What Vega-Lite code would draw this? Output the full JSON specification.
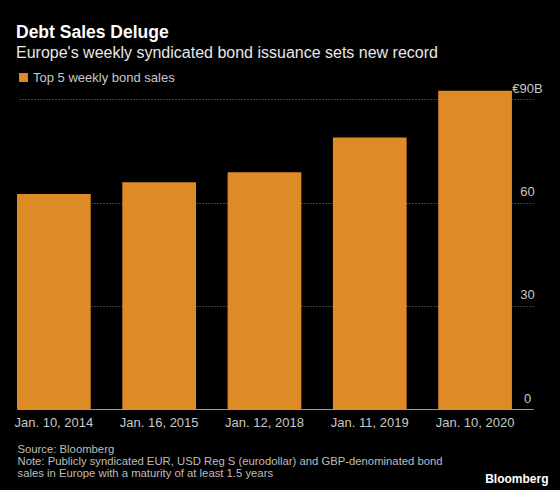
{
  "$schema": "https://vega.github.io/schema/vega-lite/v6.json",
  "width": 516,
  "height": 318,
  "autosize": {"type": "none"},
  "padding": {"left": 17, "top": 91, "right": 27, "bottom": 81},
  "background": "#000000",
  "config": {
    "font": "Liberation Sans",
    "view": {"stroke": null}
  },
  "title": {
    "text": "Debt Sales Deluge",
    "subtitle": "Europe's weekly syndicated bond issuance sets new record",
    "anchor": "start",
    "frame": "group",
    "fontSize": 17.5,
    "fontWeight": "bold",
    "color": "#ffffff",
    "subtitleFontSize": 16,
    "subtitleColor": "#e8e8e8",
    "subtitlePadding": 4,
    "offset": 10,
    "dx": -1
  },
  "data": {
    "values": [
      {"date": "Jan. 10, 2014", "value": 62.5, "series": "Top 5 weekly bond sales"},
      {"date": "Jan. 16, 2015", "value": 65.9, "series": "Top 5 weekly bond sales"},
      {"date": "Jan. 12, 2018", "value": 68.8, "series": "Top 5 weekly bond sales"},
      {"date": "Jan. 11, 2019", "value": 78.9, "series": "Top 5 weekly bond sales"},
      {"date": "Jan. 10, 2020", "value": 92.5, "series": "Top 5 weekly bond sales"}
    ]
  },
  "mark": {"type": "bar", "clip": false},
  "encoding": {
    "x": {
      "field": "date",
      "type": "nominal",
      "sort": null,
      "scale": {"paddingInner": 0.3, "paddingOuter": 0.1, "align": 0},
      "axis": {
        "title": ["Source: Bloomberg", "Note: Publicly syndicated EUR, USD Reg S (eurodollar) and GBP-denominated bond", "sales in Europe with a maturity of at least 1.5 years"],
        "titleAnchor": "start",
        "titleAlign": "left",
        "titleBaseline": "top",
        "titleFontSize": 11.3,
        "titleFontWeight": "normal",
        "titleColor": "#bdbdbd",
        "titleLineHeight": 12.4,
        "titlePadding": 14,
        "labelAngle": 0,
        "labelFontSize": 13,
        "labelColor": "#c8c8c8",
        "labelPadding": 7,
        "ticks": false,
        "tickSize": 0,
        "domainColor": "#9a9a9a",
        "domainWidth": 1
      }
    },
    "y": {
      "field": "value",
      "type": "quantitative",
      "scale": {"domain": [0, 92.4], "nice": false, "zero": true},
      "axis": {
        "orient": "right",
        "values": [0, 30, 60, 90],
        "labelExpr": "datum.value == 90 ? '€90B' : datum.label",
        "labelAlign": "center",
        "labelBaseline": "alphabetic",
        "labelPadding": -6,
        "labelOffset": -7,
        "labelFontSize": 13,
        "labelColor": "#c8c8c8",
        "ticks": false,
        "tickSize": 0,
        "domain": false,
        "grid": true,
        "gridColor": "#777777",
        "gridDash": [1, 2],
        "gridWidth": 1,
        "title": "Bloomberg",
        "titleAngle": 0,
        "titleAlign": "right",
        "titleBaseline": "alphabetic",
        "titleX": 15,
        "titleY": 391,
        "titleFontSize": 12,
        "titleFontWeight": "bold",
        "titleColor": "#ffffff"
      }
    },
    "color": {
      "field": "series",
      "type": "nominal",
      "scale": {"range": ["#DE8B27"]},
      "legend": {
        "title": null,
        "orient": "top",
        "direction": "horizontal",
        "symbolType": "square",
        "symbolSize": 80,
        "symbolStrokeWidth": 0,
        "symbolOpacity": 1,
        "labelFontSize": 13,
        "labelColor": "#c8c8c8",
        "labelOffset": 3,
        "offset": 6,
        "padding": 0
      }
    }
  }
}
